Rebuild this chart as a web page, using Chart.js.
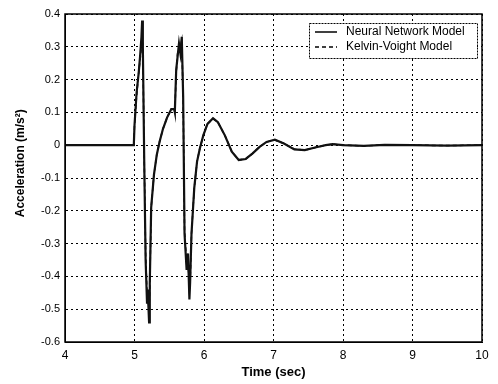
<!DOCTYPE html>
<html>
<head>
<meta charset="utf-8">
<script src="https://cdn.jsdelivr.net/npm/chart.js@4"></script>
<style>
  html, body { margin: 0; padding: 0; background: #fff; }
  #wrap { width: 498px; height: 384px; }
</style>
</head>
<body>
<div id="wrap"><canvas id="graph"></canvas></div>
<script>
// time samples (sec)
const timeSec = [4, 4.5, 4.99, 5.0, 5.03, 5.06, 5.08, 5.10, 5.11, 5.12, 5.14, 5.16, 5.18, 5.19, 5.21, 5.22, 5.24,
  5.28, 5.32, 5.36, 5.41, 5.47, 5.53, 5.57, 5.58, 5.60, 5.62, 5.64, 5.66, 5.68, 5.70, 5.72, 5.75, 5.77, 5.79,
  5.80, 5.82, 5.86, 5.90, 5.94, 5.99, 6.05, 6.13, 6.2, 6.3, 6.4, 6.5, 6.6, 6.7, 6.8, 6.9, 7.02, 7.15, 7.3,
  7.45, 7.6, 7.75, 7.85, 8.0, 8.3, 8.6, 9.0, 9.5, 10];

// acceleration (m/s^2)
const neuralNet = [0, 0, 0, 0.06, 0.16, 0.22, 0.27, 0.33, 0.38, 0.30, -0.05, -0.35, -0.48, -0.44, -0.54, -0.42, -0.19,
  -0.09, -0.03, 0.01, 0.05, 0.085, 0.11, 0.11, 0.10, 0.23, 0.27, 0.31, 0.28, 0.33, 0.15, -0.27, -0.38, -0.33, -0.47,
  -0.42, -0.27, -0.13, -0.05, -0.01, 0.03, 0.065, 0.082, 0.07, 0.03, -0.02, -0.045, -0.042, -0.025, -0.005, 0.01, 0.017, 0.005, -0.013,
  -0.015, -0.007, 0, 0.003, 0, -0.002, 0.001, 0, -0.001, 0];

const kelvinVoight = [0, 0, 0, 0.06, 0.15, 0.22, 0.26, 0.30, 0.35, 0.29, -0.04, -0.33, -0.45, -0.46, -0.50, -0.44, -0.19,
  -0.09, -0.03, 0.01, 0.05, 0.085, 0.11, 0.11, 0.10, 0.22, 0.28, 0.29, 0.30, 0.32, 0.14, -0.26, -0.36, -0.35, -0.44,
  -0.43, -0.27, -0.13, -0.05, -0.01, 0.03, 0.065, 0.081, 0.07, 0.03, -0.02, -0.045, -0.042, -0.025, -0.005, 0.01, 0.016, 0.005, -0.012,
  -0.015, -0.007, 0, 0.003, 0, -0.002, 0.001, 0, -0.001, 0];

const seriesNames = ["Neural Network Model", "Kelvin-Voight Model"];
const xTicks = [4, 5, 6, 7, 8, 9, 10];
const yTicks = [0.4, 0.3, 0.2, 0.1, 0, -0.1, -0.2, -0.3, -0.4, -0.5, -0.6];
const yTitle = "Acceleration (m/s²)";

const FONT = "'Liberation Sans', Arial, sans-serif";

function toPoints(values) {
  return timeSec.map((t, i) => ({ x: t, y: values[i] }));
}

// full box around the plot, the y title, and a legend inside the top-right corner
const framePlugin = {
  id: "frame",
  afterDraw(chart) {
    const { ctx, chartArea: a } = chart;
    ctx.save();
    ctx.strokeStyle = "#000";
    ctx.lineWidth = 1.5;
    ctx.strokeRect(a.left, a.top, a.right - a.left, a.bottom - a.top);

    // rotated y-axis title, sitting a bit above the middle of the axis
    ctx.save();
    ctx.translate(21, a.top + (a.bottom - a.top) * 0.455);
    ctx.rotate(-Math.PI / 2);
    ctx.font = "bold 12px " + FONT;
    ctx.fillStyle = "#000";
    ctx.textAlign = "center";
    ctx.textBaseline = "middle";
    ctx.fillText(yTitle, 0, 0);
    ctx.restore();

    const boxW = 168, boxH = 35;
    const bx = a.right - boxW - 5, by = a.top + 9;
    ctx.fillStyle = "#fff";
    ctx.fillRect(bx, by, boxW, boxH);
    ctx.lineWidth = 1;
    ctx.setLineDash([2, 1]);
    ctx.strokeRect(bx + 0.5, by + 0.5, boxW, boxH);

    ctx.font = "12px " + FONT;
    ctx.textBaseline = "middle";
    chart.data.datasets.forEach((ds, i) => {
      const ly = by + 9 + i * 15;
      ctx.setLineDash(ds.borderDash || []);
      ctx.lineWidth = 1.5;
      ctx.strokeStyle = "#000";
      ctx.beginPath();
      ctx.moveTo(bx + 6, ly);
      ctx.lineTo(bx + 28, ly);
      ctx.stroke();
      ctx.setLineDash([]);
      ctx.fillStyle = "#000";
      ctx.fillText(ds.label, bx + 37, ly);
    });
    ctx.restore();
  }
};

new Chart(document.getElementById("graph"), {
  type: "line",
  data: {
    datasets: [
      { label: seriesNames[0], data: toPoints(neuralNet), borderColor: "#111", borderWidth: 2.2 },
      { label: seriesNames[1], data: toPoints(kelvinVoight), borderColor: "#000", borderWidth: 1.5, borderDash: [4, 3] }
    ]
  },
  options: {
    responsive: true,
    maintainAspectRatio: false,
    animation: false,
    parsing: false,
    elements: { point: { radius: 0 }, line: { tension: 0 } },
    layout: { padding: { left: 0, right: 16, top: 14, bottom: 0 } },
    plugins: { legend: { display: false }, tooltip: { enabled: false } },
    scales: {
      x: {
        type: "linear",
        min: 4, max: 10,
        afterFit: s => { s.height = 42; },
        afterBuildTicks: s => { s.ticks = xTicks.map(v => ({ value: v })); },
        grid: { color: "#000", lineWidth: 1, drawTicks: false },
        border: { display: true, color: "#000", dash: [2, 3] },
        ticks: { color: "#000", font: { family: FONT, size: 12 }, padding: 6, maxRotation: 0 },
        title: { display: true, text: "Time (sec)", color: "#000", font: { family: FONT, size: 13, weight: "bold" }, padding: { top: 1 } }
      },
      y: {
        type: "linear",
        min: -0.6, max: 0.4,
        afterFit: s => { s.width = 65; },
        afterBuildTicks: s => { s.ticks = yTicks.map(v => ({ value: v })); },
        grid: { color: "#000", lineWidth: 1, drawTicks: false },
        border: { display: true, color: "#000", dash: [2, 3] },
        ticks: {
          color: "#000", font: { family: FONT, size: 11 }, padding: 5,
          callback: v => String(Math.round(v * 10) / 10)
        }
      }
    }
  },
  plugins: [framePlugin]
});
</script>
</body>
</html>
